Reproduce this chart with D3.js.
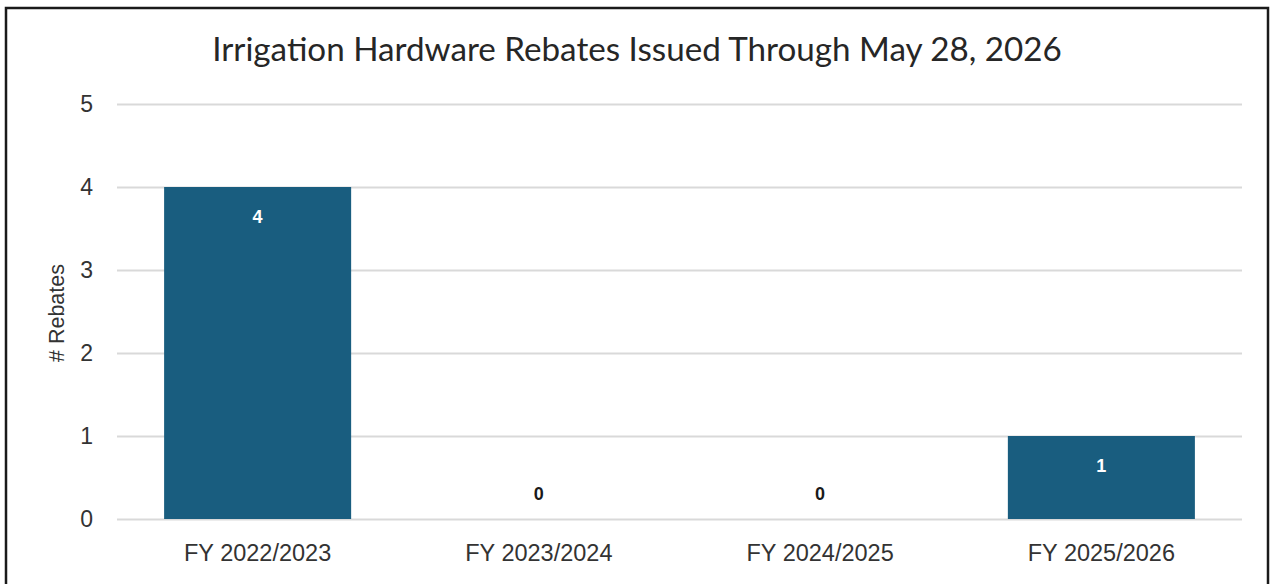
<!DOCTYPE html>
<html>
<head>
<meta charset="utf-8">
<script src="https://cdn.jsdelivr.net/npm/d3@7"></script>
<style>
  html, body { margin: 0; padding: 0; background: #ffffff; }
  svg { display: block; }
</style>
</head>
<body>
<svg id="chart" width="1274" height="584"></svg>
<script>
// Fiscal years and rebate counts
const categories = ["FY 2022/2023", "FY 2023/2024", "FY 2024/2025", "FY 2025/2026"];
const rebates = [4, 0, 0, 1];
const yTicks = [0, 1, 2, 3, 4, 5];
const titleText = "Irrigation Hardware Rebates Issued Through May 28, 2026";
const yAxisTitle = "# Rebates";

const svg = d3.select("#chart");
const plot = { left: 117, right: 1242, top: 104, bottom: 519 };

// Outer frame (bottom edge runs off the page)
svg.append("rect")
  .attr("x", 6).attr("y", 8)
  .attr("width", 1262).attr("height", 578)
  .attr("fill", "#ffffff")
  .attr("stroke", "#1a1a1a")
  .attr("stroke-width", 2.5);

// Title
svg.append("text")
  .attr("x", 637).attr("y", 61)
  .attr("text-anchor", "middle")
  .attr("font-family", "Lato, 'Open Sans', sans-serif")
  .attr("font-size", 33.2)
  .attr("fill", "#262626")
  .text(titleText);

const x = d3.scaleBand()
  .domain(categories)
  .range([plot.left, plot.right])
  .paddingInner(0.335)
  .paddingOuter(0.1675);

const y = d3.scaleLinear()
  .domain([0, 5])
  .range([plot.bottom, plot.top]);

// Y axis with gridlines
const yAxis = svg.append("g")
  .attr("transform", `translate(${plot.left},0)`)
  .call(d3.axisLeft(y)
    .tickValues(yTicks)
    .tickFormat(d3.format("d"))
    .tickSize(-(plot.right - plot.left))
    .tickPadding(24));
yAxis.select(".domain").remove();
yAxis.selectAll(".tick line")
  .attr("stroke", "#d9d9d9")
  .attr("stroke-width", 2);
yAxis.selectAll(".tick text")
  .attr("font-family", "'Liberation Sans', Arial, sans-serif")
  .attr("font-size", 23)
  .attr("fill", "#333333");

const rows = categories.map((c, i) => ({ c, v: rebates[i] }));

// Bars
svg.append("g").selectAll("rect")
  .data(rows)
  .join("rect")
  .attr("x", d => x(d.c))
  .attr("y", d => y(d.v))
  .attr("width", x.bandwidth())
  .attr("height", d => y(0) - y(d.v))
  .attr("fill", "#195d7f");

// Value labels
svg.append("g").selectAll("text")
  .data(rows)
  .join("text")
  .attr("x", d => x(d.c) + x.bandwidth() / 2)
  .attr("y", d => d.v > 0 ? y(d.v) + 30 : y(0) - 25)
  .attr("dy", "0.35em")
  .attr("text-anchor", "middle")
  .attr("font-family", "'Liberation Sans', Arial, sans-serif")
  .attr("font-weight", "bold")
  .attr("font-size", 18)
  .attr("fill", d => d.v > 0 ? "#ffffff" : "#1a1a1a")
  .text(d => d.v);

// X axis labels
const xAxis = svg.append("g")
  .attr("transform", `translate(0,${plot.bottom})`)
  .call(d3.axisBottom(x).tickSize(0).tickPadding(25));
xAxis.select(".domain").remove();
xAxis.selectAll(".tick text")
  .attr("font-family", "'Liberation Sans', Arial, sans-serif")
  .attr("font-size", 23.5)
  .attr("fill", "#333333");

// Y axis title
svg.append("text")
  .attr("transform", `translate(64,313) rotate(-90)`)
  .attr("text-anchor", "middle")
  .attr("font-family", "'Liberation Sans', Arial, sans-serif")
  .attr("font-size", 21.5)
  .attr("fill", "#333333")
  .text(yAxisTitle);
</script>
</body>
</html>
